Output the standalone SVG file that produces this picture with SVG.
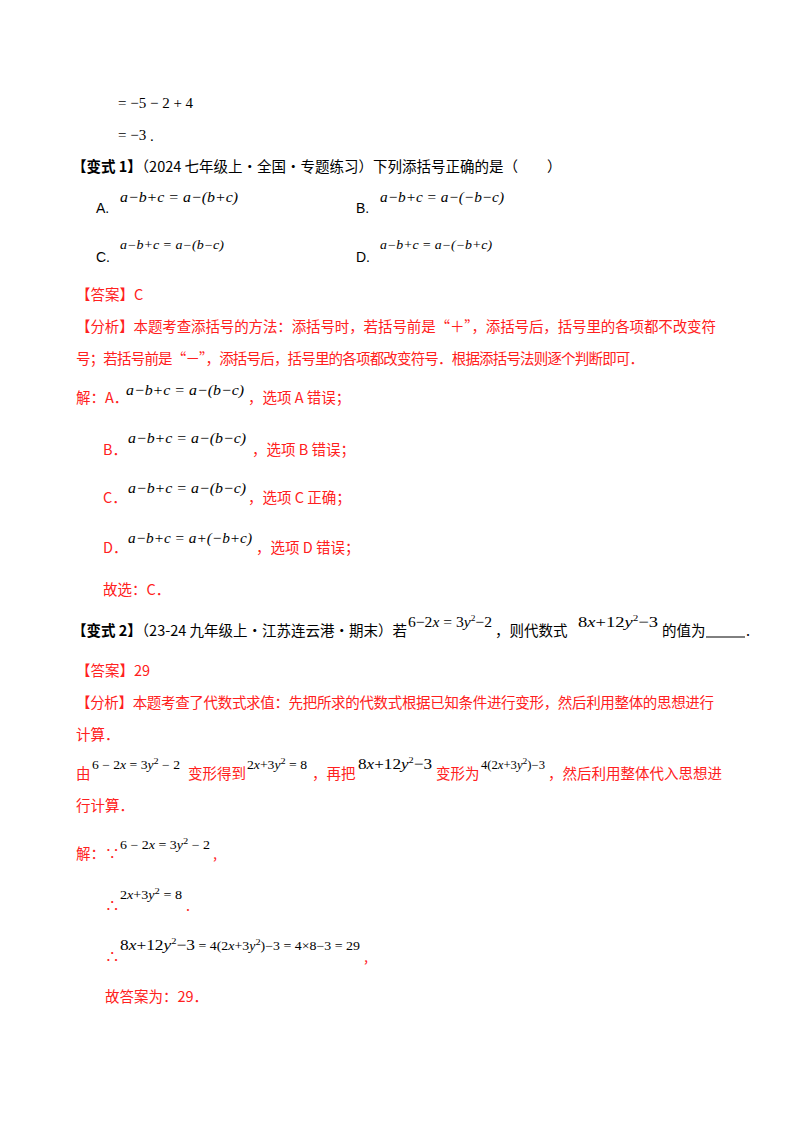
<svg xmlns="http://www.w3.org/2000/svg" width="800" height="1132" viewBox="0 0 800 1132">
<style>
.c{font-family:"Noto Sans CJK SC","Liberation Sans",sans-serif;font-size:14.5px;fill:#000}
.r{fill:#ff2020}
.b{font-weight:bold}
.m{font-family:"Liberation Serif",serif;font-size:15px;fill:#000}
.i{font-style:italic}
.s{font-size:9px}
.l{font-family:"Liberation Sans",sans-serif;font-size:14px}
</style>
<rect width="800" height="1132" fill="#fff"/>
<text class="m" x="118" y="108">= −5 − 2 + 4</text>
<text class="m" x="118" y="140">= −3</text><text class="m r" x="150" y="141">.</text>
<text class="c" x="72" y="172"><tspan class="b">【变式 1】</tspan>（2024 七年级上·全国·专题练习）下列添括号正确的是（　　）</text>
<text class="l" x="96" y="213">A.</text>
<text class="m i" x="120" y="202" textLength="118" lengthAdjust="spacingAndGlyphs">a−b+c = a−(b+c)</text>
<text class="l" x="356" y="213">B.</text>
<text class="m i" x="380" y="202" textLength="124" lengthAdjust="spacingAndGlyphs">a−b+c = a−(−b−c)</text>
<text class="l" x="96" y="262">C.</text>
<text class="m i" x="120" y="249" style="font-size:12px" textLength="104" lengthAdjust="spacingAndGlyphs">a−b+c = a−(b−c)</text>
<text class="l" x="356" y="262">D.</text>
<text class="m i" x="380" y="249" style="font-size:12px" textLength="112" lengthAdjust="spacingAndGlyphs">a−b+c = a−(−b+c)</text>
<text class="c r" x="76" y="300">【答案】C</text>
<text class="c r" x="76" y="332" textLength="640">【分析】本题考查添括号的方法：添括号时，若括号前是“＋”，添括号后，括号里的各项都不改变符</text>
<text class="c r" x="76" y="364" textLength="568">号；若括号前是“－”，添括号后，括号里的各项都改变符号．根据添括号法则逐个判断即可．</text>
<text class="c r" x="76" y="403">解：A．</text>
<text class="m i" x="126" y="395" textLength="118" lengthAdjust="spacingAndGlyphs">a−b+c = a−(b−c)</text><text class="c r" x="248" y="403">，选项 A 错误；</text>
<text class="c r" x="103" y="455">B．</text>
<text class="m i" x="128" y="443" textLength="118" lengthAdjust="spacingAndGlyphs">a−b+c = a−(b−c)</text><text class="c r" x="252" y="455">，选项 B 错误；</text>
<text class="c r" x="103" y="503">C．</text>
<text class="m i" x="128" y="493" textLength="118" lengthAdjust="spacingAndGlyphs">a−b+c = a−(b−c)</text><text class="c r" x="248" y="503">，选项 C 正确；</text>
<text class="c r" x="103" y="553">D．</text>
<text class="m i" x="128" y="543" textLength="124" lengthAdjust="spacingAndGlyphs">a−b+c = a+(−b+c)</text><text class="c r" x="256" y="553">，选项 D 错误；</text>
<text class="c r" x="103" y="595">故选：C．</text>
<text class="c" x="72" y="636"><tspan class="b">【变式 2】</tspan>（23-24 九年级上·江苏连云港·期末）若</text>
<text class="m" x="408" y="627" textLength="84" lengthAdjust="spacingAndGlyphs">6−2<tspan class="i">x</tspan> = 3<tspan class="i">y</tspan><tspan class="s" dy="-6">2</tspan><tspan dy="6">−2</tspan></text>
<text class="c" x="495" y="636">，则代数式</text>
<text class="m" x="578" y="627" textLength="80" lengthAdjust="spacingAndGlyphs">8<tspan class="i">x</tspan>+12<tspan class="i">y</tspan><tspan class="s" dy="-6">2</tspan><tspan dy="6">−3</tspan></text>
<text class="c" x="662" y="636">的值为</text>
<line x1="706" y1="637" x2="745" y2="637" stroke="#000" stroke-width="1"/>
<text class="c" x="746" y="636">.</text>
<text class="c r" x="76" y="676">【答案】29</text>
<text class="c r" x="76" y="708" textLength="638">【分析】本题考查了代数式求值：先把所求的代数式根据已知条件进行变形，然后利用整体的思想进行</text>
<text class="c r" x="76" y="740">计算．</text>
<text class="c r" x="76" y="779">由</text>
<text class="m" x="92" y="769" style="font-size:12px" textLength="88" lengthAdjust="spacingAndGlyphs">6 − 2<tspan class="i">x</tspan> = 3<tspan class="i">y</tspan><tspan class="s" dy="-5">2</tspan><tspan dy="5"> − 2</tspan></text>
<text class="c r" x="188" y="779">变形得到</text>
<text class="m" x="247" y="769" style="font-size:12px" textLength="60" lengthAdjust="spacingAndGlyphs">2<tspan class="i">x</tspan>+3<tspan class="i">y</tspan><tspan class="s" dy="-5">2</tspan><tspan dy="5"> = 8</tspan></text>
<text class="c r" x="312" y="779">，再把</text>
<text class="m" x="358" y="769" textLength="74" lengthAdjust="spacingAndGlyphs">8<tspan class="i">x</tspan>+12<tspan class="i">y</tspan><tspan class="s" dy="-6">2</tspan><tspan dy="6">−3</tspan></text>
<text class="c r" x="436" y="779">变形为</text>
<text class="m" x="481" y="769" style="font-size:12px" textLength="64" lengthAdjust="spacingAndGlyphs">4(2<tspan class="i">x</tspan>+3<tspan class="i">y</tspan><tspan class="s" dy="-5">2</tspan><tspan dy="5">)−3</tspan></text>
<text class="c r" x="548" y="779">，然后利用整体代入思想进</text>
<text class="c r" x="76" y="811">行计算．</text>
<text class="c r" x="76" y="859">解：∵</text>
<text class="m" x="120" y="849" style="font-size:12px" textLength="90" lengthAdjust="spacingAndGlyphs">6 − 2<tspan class="i">x</tspan> = 3<tspan class="i">y</tspan><tspan class="s" dy="-5">2</tspan><tspan dy="5"> − 2</tspan></text>
<text class="c r" x="213" y="859">,</text>
<text class="c r" x="105" y="911">∴</text>
<text class="m" x="120" y="899" style="font-size:12px" textLength="62" lengthAdjust="spacingAndGlyphs">2<tspan class="i">x</tspan>+3<tspan class="i">y</tspan><tspan class="s" dy="-5">2</tspan><tspan dy="5"> = 8</tspan></text>
<text class="c r" x="186" y="911">.</text>
<text class="m" x="120" y="950" textLength="240" lengthAdjust="spacingAndGlyphs">8<tspan class="i">x</tspan>+12<tspan class="i">y</tspan><tspan class="s" dy="-6">2</tspan><tspan dy="6">−3</tspan><tspan style="font-size:12px"> = 4(2<tspan class="i">x</tspan>+3<tspan class="i">y</tspan><tspan class="s" dy="-5">2</tspan><tspan dy="5">)−3 = 4×8−3 = 29</tspan></tspan></text>
<text class="c r" x="105" y="962">∴</text>
<text class="c r" x="364" y="962">,</text>
<text class="c r" x="105" y="1002">故答案为：29．</text>
</svg>
